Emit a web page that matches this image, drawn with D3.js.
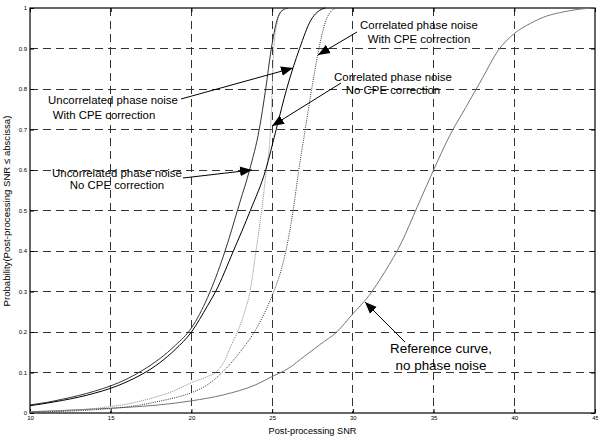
<!DOCTYPE html>
<html lang="en">
<head>
<meta charset="UTF-8">
<script src="https://cdn.jsdelivr.net/npm/d3@7"></script>
<title>CDF of post-processing SNR</title>
<style>
    body { margin: 0; background: #fff; }
    text { font-family: Arial, "Liberation Sans", sans-serif; fill: #000; }
</style>
</head>
<body>
<script>
    // values: [SNR, probability]
    var uncorrNoCpe = [[10,0.02],[11,0.026],[12,0.034],[13,0.043],[14,0.054],[15,0.067],[16,0.084],[17,0.106],
        [18,0.133],[19,0.167],[20,0.21],[21,0.285],[22,0.39],[23,0.52],[23.6,0.6],[24.2,0.7],[24.6,0.8],
        [24.95,0.9],[25.3,0.97],[25.6,0.993],[26,1]];
    var uncorrCpe = [[10,0.018],[11,0.024],[12,0.031],[13,0.039],[14,0.049],[15,0.061],[16,0.077],[17,0.097],
        [18,0.123],[19,0.157],[20,0.2],[21,0.265],[21.5,0.3],[22.6,0.4],[23.65,0.5],[24.6,0.6],[25.25,0.7],
        [25.9,0.8],[26.7,0.9],[27.4,0.97],[27.8,0.99],[28.3,1]];
    var corrNoCpe = [[10,0.003],[12,0.006],[14,0.011],[15,0.016],[16,0.022],[17,0.031],[18,0.042],[19,0.056],
        [20,0.075],[21,0.09],[21.5,0.1],[22,0.125],[22.5,0.17],[22.85,0.2],[23.3,0.25],[23.63,0.3],[24,0.4],
        [24.35,0.5],[24.64,0.6],[24.9,0.7],[25,0.8],[25.1,0.9],[25.35,0.97],[25.6,0.993],[25.9,1]];
    var corrCpe = [[10,0.002],[12,0.004],[14,0.008],[15,0.011],[16,0.015],[17,0.021],[18,0.029],[19,0.038],
        [20,0.05],[21,0.07],[22,0.104],[23,0.15],[24,0.207],[25,0.29],[25.5,0.345],[25.85,0.4],[26.3,0.5],
        [26.65,0.6],[27.05,0.7],[27.45,0.8],[27.85,0.89],[28.3,0.965],[28.6,0.99],[29,1]];
    var reference = [[10,0.003],[12,0.006],[14,0.01],[16,0.014],[18,0.02],[20,0.03],[22,0.045],[24,0.07],
        [25,0.09],[26,0.11],[27,0.14],[28,0.17],[29,0.2],[30,0.245],[31,0.29],[32,0.35],[33,0.42],[34,0.51],
        [35,0.6],[36,0.685],[37,0.755],[38,0.825],[39,0.895],[40,0.937],[41,0.962],[42,0.98],[43,0.99],
        [44,0.997],[45,1]];

    var xTicks = [10, 15, 20, 25, 30, 35, 40, 45];
    var yTicks = [0, 0.1, 0.2, 0.3, 0.4, 0.5, 0.6, 0.7, 0.8, 0.9, 1];
    var xLabel = "Post-processing SNR";
    var yLabel = "Probability(Post-processing SNR \u2264 abscissa)";

    var width = 598, height = 437;
    var pLeft = 30, pTop = 8, pRight = 595, pBottom = 413;

    var x = d3.scaleLinear().domain([10, 45]).range([pLeft, pRight]);
    var y = d3.scaleLinear().domain([0, 1]).range([pBottom, pTop]);

    var svg = d3.select("body").append("svg")
        .attr("width", width)
        .attr("height", height);

    // grid
    var grid = svg.append("g").attr("stroke", "#333").attr("stroke-width", 1)
        .attr("stroke-dasharray", "8,5").attr("shape-rendering", "crispEdges");
    grid.selectAll(".gx").data(xTicks.slice(1, -1)).enter().append("line")
        .attr("x1", d => x(d)).attr("x2", d => x(d)).attr("y1", pTop).attr("y2", pBottom);
    grid.selectAll(".gy").data(yTicks.slice(1, -1)).enter().append("line")
        .attr("y1", d => y(d)).attr("y2", d => y(d)).attr("x1", pLeft).attr("x2", pRight);

    // axes: inward ticks, labels
    var xAxis = svg.append("g").attr("transform", "translate(0," + pBottom + ")")
        .call(d3.axisBottom(x).tickValues(xTicks).tickSize(-4).tickPadding(3).tickFormat(d3.format("d")));
    var yAxis = svg.append("g").attr("transform", "translate(" + pLeft + ",0)")
        .call(d3.axisLeft(y).tickValues(yTicks).tickSize(-4).tickPadding(3).tickFormat(d => d3.format("~g")(d)));
    svg.append("g").attr("transform", "translate(0," + pTop + ")")
        .call(d3.axisTop(x).tickValues(xTicks).tickSize(-4).tickFormat(""));
    svg.append("g").attr("transform", "translate(" + pRight + ",0)")
        .call(d3.axisRight(y).tickValues(yTicks).tickSize(-4).tickFormat(""));
    svg.selectAll(".domain").remove();
    svg.selectAll(".tick line").attr("stroke", "#000");
    [xAxis, yAxis].forEach(g => g.selectAll("text").style("font-size", "6px").attr("font-family", null));

    svg.append("rect")
        .attr("x", pLeft).attr("y", pTop).attr("width", pRight - pLeft).attr("height", pBottom - pTop)
        .attr("fill", "none").attr("stroke", "#000").attr("stroke-width", 1.2);

    svg.append("text").attr("x", (pLeft + pRight) / 2).attr("y", 434)
        .attr("text-anchor", "middle").style("font-size", "9.2px").text(xLabel);
    svg.append("text").attr("transform", "translate(10," + 211 + ") rotate(-90)")
        .attr("text-anchor", "middle").style("font-size", "9.6px").text(yLabel);

    // curves
    var line = d3.line().x(d => x(d[0])).y(d => y(d[1])).curve(d3.curveMonotoneX);
    var series = [
        { data: reference, color: "#777", dash: null },
        { data: corrNoCpe, color: "#888", dash: "1,1" },
        { data: corrCpe, color: "#333", dash: "1,1.2" },
        { data: uncorrNoCpe, color: "#333", dash: null },
        { data: uncorrCpe, color: "#000", dash: null }
    ];
    svg.append("g").selectAll("path").data(series).enter().append("path")
        .attr("d", d => line(d.data))
        .attr("fill", "none")
        .attr("stroke", d => d.color)
        .attr("stroke-width", 1)
        .attr("stroke-dasharray", d => d.dash);

    // annotations
    svg.append("defs").append("marker")
        .attr("id", "head").attr("viewBox", "0 0 10 10")
        .attr("refX", 10).attr("refY", 5)
        .attr("markerWidth", 12).attr("markerHeight", 12)
        .attr("markerUnits", "userSpaceOnUse")
        .attr("orient", "auto")
        .append("path").attr("d", "M0,1 L10,5 L0,9 Z").attr("fill", "#000");

    var notes = [
        { lines: [["Uncorrelated phase noise", 113, 104], ["With CPE correction", 104, 119]],
          from: [181, 99], to: [293, 68], size: 11.4 },
        { lines: [["Uncorrelated phase noise", 117, 176.5], ["No CPE correction", 117, 189]],
          from: [183, 178], to: [252, 170], size: 11.4 },
        { lines: [["Correlated phase noise", 393, 80.5], ["No CPE correction", 393, 94]],
          from: [341, 83], to: [272, 126], size: 11.4 },
        { lines: [["Correlated phase noise", 419, 29], ["With CPE correction", 419, 43]],
          from: [357, 32], to: [318, 55], size: 11.4 },
        { lines: [["Reference curve,", 441, 352.5], ["no phase noise", 441, 369.5]],
          from: [405, 342], to: [365, 302], size: 13.4 }
    ];
    notes.forEach(n => {
        n.lines.forEach(l => {
            svg.append("text").attr("x", l[1]).attr("y", l[2])
                .attr("text-anchor", "middle").style("font-size", n.size + "px").text(l[0]);
        });
        svg.append("line")
            .attr("x1", n.from[0]).attr("y1", n.from[1])
            .attr("x2", n.to[0]).attr("y2", n.to[1])
            .attr("stroke", "#000").attr("stroke-width", 1)
            .attr("marker-end", "url(#head)");
    });
</script>
</body>
</html>
